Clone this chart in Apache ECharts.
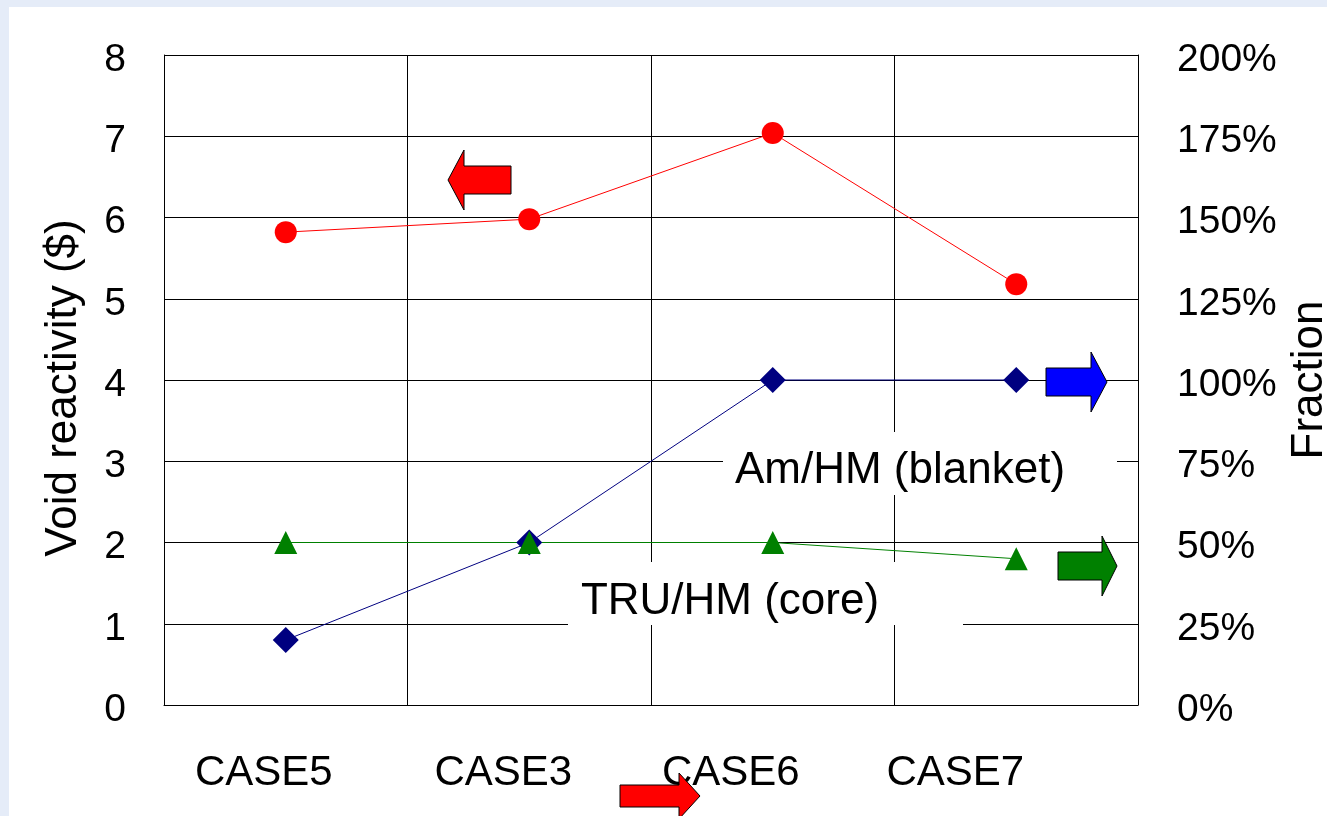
<!DOCTYPE html>
<html>
<head>
<meta charset="utf-8">
<script src="https://cdn.jsdelivr.net/npm/echarts@6/dist/echarts.min.js"></script>
<style>
  html, body { margin: 0; padding: 0; background: #e5ecf8; overflow: hidden; }
  #panel { position: absolute; left: 9px; top: 7px; right: 0; bottom: 0; background: #ffffff; }
  #chart { position: absolute; left: 0; top: 0; width: 1327px; height: 816px; }
</style>
</head>
<body>
<div id="panel"></div>
<div id="chart"></div>
<script>
// Cases compared along the horizontal axis
const categories = ['CASE5', 'CASE3', 'CASE6', 'CASE7'];

// Void reactivity in dollars (left axis)
const voidReactivity = [5.82, 5.98, 7.04, 5.18];

// Fractions (right axis, 1.0 = 100%)
const amHmBlanket = [0.20, 0.50, 1.00, 1.00];
const truHmCore = [0.50, 0.50, 0.50, 0.45];

// Axis tick labels
const leftTicks = ['0', '1', '2', '3', '4', '5', '6', '7', '8'];
const rightTicks = ['0%', '25%', '50%', '75%', '100%', '125%', '150%', '175%', '200%'];

const textFont = "'Liberation Sans', Arial, sans-serif";

// Case labels sit a little left of their category centres
const labelShift = [22, 26, 42, 61];
const caseRich = {};
labelShift.forEach((s, i) => {
  caseRich['c' + i] = { fontSize: 42, fontFamily: textFont, color: '#000', padding: [0, 2 * s, 0, 0] };
});

// Value-axis numbers, nudged slightly below their gridlines
const tickRich = { t: { fontSize: 39, fontFamily: textFont, color: '#000', padding: [10, 0, 0, 0] } };

// Block arrow outline: tail at (x0, y), pointing along dir (+1 right, -1 left)
function arrowPoints(x0, y, bodyLen, headLen, bodyHalf, headHalf, dir) {
  const xb = x0 + dir * bodyLen;
  const xt = xb + dir * headLen;
  return [
    [x0, y - bodyHalf], [xb, y - bodyHalf], [xb, y - headHalf],
    [xt, y], [xb, y + headHalf], [xb, y + bodyHalf], [x0, y + bodyHalf]
  ];
}
function arrow(points, color) {
  return {
    type: 'polygon', z: 100,
    shape: { points: points },
    style: { fill: color, stroke: '#000', lineWidth: 1 }
  };
}
// White label box hiding the grid behind a series caption
function boxedText(text, box, cx, cy) {
  return [
    { type: 'rect', z: 50, shape: box, style: { fill: '#fff' } },
    {
      type: 'text', z: 51, x: cx, y: cy,
      style: { text: text, font: '44px ' + textFont, fill: '#000', align: 'center', verticalAlign: 'middle' }
    }
  ];
}

const chart = echarts.init(document.getElementById('chart'), null, { renderer: 'canvas' });

const option = {
  backgroundColor: 'transparent',
  animation: false,
  grid: { left: 164, right: 189, top: 55, bottom: 111, outerBoundsMode: 'none' },
  xAxis: {
    type: 'category',
    data: categories,
    boundaryGap: true,
    axisLine: { lineStyle: { color: '#000', width: 1 } },
    axisTick: { show: false },
    splitLine: { show: true, interval: 0, lineStyle: { color: '#000', width: 1 } },
    axisLabel: {
      interval: 0, hideOverlap: false,
      color: '#000', fontSize: 42, fontFamily: textFont, margin: 47,
      formatter: (v, i) => '{c' + i + '|' + v + '}',
      rich: caseRich
    }
  },
  yAxis: [
    {
      type: 'value', min: 0, max: 8, interval: 1, position: 'left',
      name: 'Void reactivity ($)', nameLocation: 'middle', nameRotate: 90, nameGap: 78,
      nameTextStyle: { color: '#000', fontSize: 44, fontFamily: textFont, padding: [0, 16, 0, 0] },
      axisLine: { show: true, lineStyle: { color: '#000', width: 1 } },
      axisTick: { show: true, inside: true, length: 12, lineStyle: { color: '#000' } },
      splitLine: { show: true, lineStyle: { color: '#000', width: 1 } },
      axisLabel: { color: '#000', fontSize: 39, fontFamily: textFont, margin: 38, rich: tickRich,
        formatter: (v) => '{t|' + leftTicks[Math.round(v)] + '}' }
    },
    {
      type: 'value', min: 0, max: 2, interval: 0.25, position: 'right',
      name: 'Fraction', nameLocation: 'middle', nameRotate: 90, nameGap: 124,
      nameTextStyle: { color: '#000', fontSize: 44, fontFamily: textFont },
      axisLine: { show: true, lineStyle: { color: '#000', width: 1 } },
      axisTick: { show: true, inside: true, length: 12, lineStyle: { color: '#000' } },
      splitLine: { show: false },
      axisLabel: { color: '#000', fontSize: 39, fontFamily: textFont, margin: 39, rich: tickRich,
        formatter: (v) => '{t|' + rightTicks[Math.round(v * 4)] + '}' }
    }
  ],
  series: [
    {
      name: 'Void reactivity', type: 'line', yAxisIndex: 0, data: voidReactivity,
      symbol: 'circle', symbolSize: 22, z: 5,
      lineStyle: { color: '#ff0000', width: 1 },
      itemStyle: { color: '#ff0000' }
    },
    {
      name: 'Am/HM (blanket)', type: 'line', yAxisIndex: 1, data: amHmBlanket,
      symbol: 'diamond', symbolSize: 26, z: 5,
      lineStyle: { color: '#000080', width: 1 },
      itemStyle: { color: '#000080' }
    },
    {
      name: 'TRU/HM (core)', type: 'line', yAxisIndex: 1, data: truHmCore,
      symbol: 'triangle', symbolSize: 23, z: 5,
      lineStyle: { color: '#008000', width: 1 },
      itemStyle: { color: '#008000' }
    }
  ],
  graphic: [
    ...boxedText('Am/HM (blanket)', { x: 723, y: 432, width: 394, height: 63 }, 900, 471),
    ...boxedText('TRU/HM (core)', { x: 568, y: 562, width: 395, height: 63 }, 730, 602),
    arrow(arrowPoints(511, 180, 47, 16, 14, 30, -1), '#ff0000'),
    arrow(arrowPoints(1046, 382, 45, 16, 14, 30, 1), '#0000ff'),
    arrow(arrowPoints(1058, 566, 44, 15, 14, 30, 1), '#008000'),
    arrow(arrowPoints(620, 796, 59, 21, 11, 23, 1), '#ff0000')
  ]
};

chart.setOption(option);
</script>
</body>
</html>
